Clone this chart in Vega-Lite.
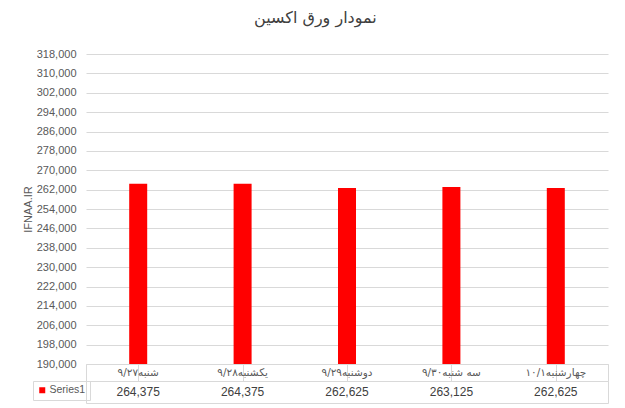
{
  "$schema": "https://vega.github.io/schema/vega-lite/v6.json",
  "padding": {"left": 22, "top": 10, "right": 15, "bottom": 6},
  "autosize": {"type": "pad"},
  "background": "white",
  "title": {"text": "نمودار ورق اکسین", "fontSize": 16, "font": "DejaVu Sans", "fontWeight": "normal", "color": "#404040", "anchor": "middle", "offset": 22},
  "datasets": {
    "prices": [
      {"day": "۹/۲۷شنبه", "price": 264375, "series": "Series1"},
      {"day": "۹/۲۸یکشنبه", "price": 264375, "series": "Series1"},
      {"day": "۹/۲۹دوشنبه", "price": 262625, "series": "Series1"},
      {"day": "۹/۳۰سه شنبه", "price": 263125, "series": "Series1"},
      {"day": "۱۰/۱چهارشنبه", "price": 262625, "series": "Series1"}
    ]
  },
  "data": {"name": "prices"},
  "spacing": 0,
  "bounds": "flush",
  "resolve": {"scale": {"color": "independent", "x": "independent"}, "legend": {"color": "independent"}},
  "config": {"view": {"stroke": null}, "font": "Liberation Sans"},
  "vconcat": [
    {
      "width": 522,
      "height": 310,
      "mark": {"type": "bar", "color": "#ff0000", "size": 18, "clip": true},
      "encoding": {
        "x": {"field": "day", "type": "nominal", "sort": null, "axis": null, "scale": {"paddingInner": 0, "paddingOuter": 0}},
        "y": {
          "field": "price", "type": "quantitative",
          "scale": {"domain": [190000, 318000], "nice": false, "zero": false},
          "axis": {
            "values": [190000, 198000, 206000, 214000, 222000, 230000, 238000, 246000, 254000, 262000, 270000, 278000, 286000, 294000, 302000, 310000, 318000],
            "format": ",.0f", "title": "IFNAA.IR", "grid": true, "gridColor": "#d9d9d9", "domain": false, "ticks": false,
            "labelPadding": 10, "labelFontSize": 11, "labelColor": "#595959",
            "titleFontSize": 11, "titleFontWeight": "normal", "titleColor": "#595959", "titlePadding": 3
          }
        }
      }
    },
    {
      "width": 522,
      "height": 17,
      "view": {"stroke": "#d9d9d9"},
      "mark": {"type": "text", "fontSize": 10.5, "color": "#595959", "font": "DejaVu Sans"},
      "encoding": {
        "x": {"field": "day", "type": "nominal", "sort": null, "scale": {"paddingInner": 0, "paddingOuter": 0},
              "axis": {"title": null, "labels": false, "ticks": false, "domain": false, "grid": true, "gridColor": "#d9d9d9", "bandPosition": 0}},
        "text": {"field": "day"}
      }
    },
    {
      "width": 522,
      "height": 22,
      "view": {"stroke": "#d9d9d9"},
      "layer": [
        {
          "mark": {"type": "rect", "opacity": 0},
          "encoding": {
            "x": {"field": "day", "type": "nominal", "sort": null, "scale": {"paddingInner": 0, "paddingOuter": 0}, "axis": null},
            "color": {
              "field": "series", "type": "nominal",
              "scale": {"range": ["#ff0000"]},
              "legend": {"orient": "left", "title": null, "offset": -4, "padding": 4, "strokeColor": "#d9d9d9", "symbolType": "square", "symbolSize": 36, "symbolOpacity": 1, "labelFontSize": 10.5, "labelColor": "#595959", "labelOffset": 2, "cornerRadius": 0}
            }
          }
        },
        {
          "mark": {"type": "text", "fontSize": 12, "color": "#404040"},
          "encoding": {
            "x": {"field": "day", "type": "nominal", "sort": null, "scale": {"paddingInner": 0, "paddingOuter": 0},
                  "axis": {"title": null, "labels": false, "ticks": false, "domain": false, "grid": true, "gridColor": "#d9d9d9", "bandPosition": 0}},
            "text": {"field": "price", "type": "quantitative", "format": ","}
          }
        }
      ]
    }
  ]
}
